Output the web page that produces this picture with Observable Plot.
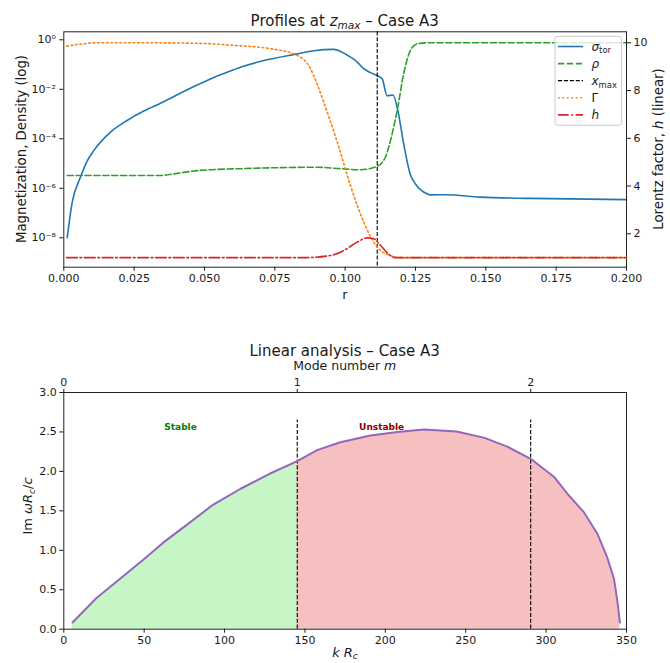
<!DOCTYPE html>
<html>
<head>
<meta charset="utf-8">
<script src="https://cdn.jsdelivr.net/npm/d3@7"></script>
<script src="https://cdn.jsdelivr.net/npm/@observablehq/plot@0.6"></script>
<style>
  html, body { margin: 0; padding: 0; background: white; }
  #wrap { position: relative; width: 670px; height: 663px; font-family: "DejaVu Sans", sans-serif; }
  #wrap svg { position: absolute; left: 0; }
</style>
</head>
<body>
<div id="wrap"></div>
<script>
// ---------- Top panel data: profiles at z_max ----------
const rDomain = [0, 0.2];
const rTicks = [0, 0.025, 0.05, 0.075, 0.1, 0.125, 0.15, 0.175, 0.2];
const logDomain = [Math.pow(10, -9.188), Math.pow(10, 0.323)];
const logTicks = [1e-8, 1e-6, 1e-4, 1e-2, 1];
const logTickLabels = ["10⁻⁸", "10⁻⁶", "10⁻⁴", "10⁻²", "10⁰"];
const linDomain = [0.601, 10.46];
const linTicks = [2, 4, 6, 8, 10];
const xMax = 0.1114;

const sigmaR = [0.0012, 0.003, 0.0059, 0.0083, 0.0107, 0.0166, 0.0225, 0.0284, 0.0344, 0.0403, 0.0462, 0.0521, 0.0581, 0.0628, 0.0711, 0.083, 0.0889, 0.096, 0.0984, 0.1019, 0.1043, 0.1066, 0.109, 0.1114, 0.1132, 0.1149, 0.117, 0.1188, 0.1208, 0.1232, 0.125, 0.1291, 0.1303, 0.136, 0.148, 0.166, 0.2];
const sigmaV = [1e-8, 2.75e-7, 2.8e-6, 1.26e-5, 3.4e-5, 1.86e-4, 5.5e-4, 1.32e-3, 2.75e-3, 6.0e-3, 0.0129, 0.0263, 0.049, 0.0776, 0.145, 0.27, 0.363, 0.41, 0.34, 0.20, 0.126, 0.068, 0.047, 0.036, 0.026, 0.0055, 0.0059, 0.00126, 6.3e-5, 3.5e-6, 1.5e-6, 6.0e-7, 5.4e-7, 5.5e-7, 4.4e-7, 3.9e-7, 3.5e-7];

const rhoR = [0.0012, 0.0344, 0.0403, 0.0462, 0.0521, 0.0628, 0.09, 0.0984, 0.1055, 0.1114, 0.1143, 0.1161, 0.1185, 0.1208, 0.1232, 0.1256, 0.1303, 0.2];
const rhoV = [3.3e-6, 3.3e-6, 4.0e-6, 5.0e-6, 5.6e-6, 6.2e-6, 7.1e-6, 6.2e-6, 5.6e-6, 7.8e-6, 1.8e-5, 8.5e-5, 1.4e-3, 0.043, 0.37, 0.69, 0.76, 0.76];

const gammaR = [0.001, 0.005, 0.012, 0.03, 0.05, 0.0593, 0.0735, 0.083, 0.0877, 0.09, 0.0924, 0.0972, 0.1019, 0.1066, 0.1114, 0.1161, 0.12, 0.2];
const gammaV = [9.86, 9.93, 10.0, 10.0, 9.97, 9.9, 9.75, 9.47, 8.91, 8.28, 7.51, 5.84, 4.02, 2.49, 1.44, 1.09, 1.0, 1.0];

const hR = [0.001, 0.085, 0.0948, 0.0995, 0.1043, 0.1078, 0.1102, 0.1126, 0.1161, 0.118, 0.2];
const hV = [1.0, 1.0, 1.09, 1.30, 1.65, 1.83, 1.79, 1.51, 1.09, 1.0, 1.0];

// ---------- Bottom panel data: linear analysis ----------
const kDomain = [0, 350];
const kTicks = [0, 50, 100, 150, 200, 250, 300, 350];
const gDomain = [0, 3];
const gTicks = [0, 0.5, 1, 1.5, 2, 2.5, 3];
const modeK = [0, 145.2, 290.4];
const modeLabels = ["0", "1", "2"];
const modeLineTop = 2.65;
const kSplit = 145.2;

const growthK = [5.4, 20, 35, 50, 62, 75, 93, 110, 128, 145.2, 157.6, 172, 190.8, 207.4, 224, 244.3, 261.8, 276.2, 290.4, 305, 313.3, 323.6, 331.9, 338, 342.2, 344.3, 345.9];
const growthV = [0.085, 0.39, 0.64, 0.89, 1.10, 1.30, 1.58, 1.78, 1.97, 2.13, 2.27, 2.37, 2.455, 2.50, 2.53, 2.505, 2.425, 2.31, 2.16, 1.93, 1.715, 1.48, 1.21, 0.91, 0.64, 0.36, 0.085];

const regionLabels = ["Stable", "Unstable"];
const regionK = [72.6, 197.7];
const regionG = [2.56, 2.56];
const regionColors = ["#008000", "#8b0000"];

// ---------- helpers ----------
const zip = (xs, ys, kx, ky) => xs.map((x, i) => ({[kx]: x, [ky]: ys[i]}));
const FONT = "DejaVu Sans";
const TXT = "#1a1a1a";

function rich(sel, x, y, parts, {size = 13, anchor = "middle", rotate = 0, weight = "normal", fill = TXT} = {}) {
  const t = sel.append("text")
    .attr("transform", `translate(${x},${y}) rotate(${rotate})`)
    .attr("text-anchor", anchor)
    .attr("font-size", size)
    .attr("font-weight", weight)
    .attr("font-family", FONT)
    .attr("fill", fill);
  let shift = 0;
  for (const p of parts) {
    const ts = t.append("tspan").text(p.t);
    if (p.i) ts.attr("font-style", "italic");
    const target = p.sub ? size * 0.22 : p.sup ? -size * 0.38 : 0;
    if (target !== shift) { ts.attr("dy", target - shift); shift = target; }
    if (p.sub || p.sup) ts.attr("font-size", size * 0.7);
  }
  return t;
}

const wrap = d3.select("#wrap");
const baseStyle = {fontFamily: FONT, fontSize: "11px", color: TXT, overflow: "visible"};

// ---------- Top panel ----------
const topM = {marginTop: 31.3, marginBottom: 43.3, marginLeft: 63.3, marginRight: 44};

const topLeft = Plot.plot({
  width: 670, height: 310, ...topM,
  style: {...baseStyle, background: "white"},
  x: {domain: rDomain, label: null},
  y: {type: "log", domain: logDomain, label: null},
  marks: [
    Plot.line(zip(sigmaR, sigmaV, "r", "v"), {x: "r", y: "v", stroke: "#1f77b4", strokeWidth: 1.6, curve: "monotone-x"}),
    Plot.line(zip(rhoR, rhoV, "r", "v"), {x: "r", y: "v", stroke: "#2ca02c", strokeWidth: 1.6, strokeDasharray: "6.2,2.7", curve: "monotone-x"}),
    Plot.frame({stroke: "#222", strokeWidth: 1}),
    Plot.axisX({ticks: rTicks, tickFormat: d3.format(".3f"), tickSize: 4, tickPadding: 3, label: null}),
    Plot.axisY({ticks: logTicks, tickFormat: d => logTickLabels[logTicks.indexOf(d)], tickSize: 4, tickPadding: 4, label: null})
  ]
});

const topRight = Plot.plot({
  width: 670, height: 310, ...topM,
  style: {...baseStyle, background: "transparent"},
  x: {domain: rDomain, axis: null},
  y: {domain: linDomain, axis: null},
  marks: [
    Plot.ruleX([xMax], {stroke: "black", strokeWidth: 1.1, strokeDasharray: "4.1,1.8"}),
    Plot.line(zip(gammaR, gammaV, "r", "v"), {x: "r", y: "v", stroke: "#ff7f0e", strokeWidth: 1.6, strokeDasharray: "1.7,2.75", curve: "monotone-x"}),
    Plot.line(zip(hR, hV, "r", "v"), {x: "r", y: "v", stroke: "#d62728", strokeWidth: 1.6, strokeDasharray: "10.7,2.7,1.7,2.7", curve: "monotone-x"}),
    Plot.axisY({anchor: "right", ticks: linTicks, tickSize: 4, tickPadding: 3, label: null})
  ]
});

topLeft.style.top = "0px";
topRight.style.top = "0px";
wrap.node().appendChild(topLeft);
wrap.node().appendChild(topRight);

const ov = d3.select(topRight);
rich(ov, 344.7, 26, [{t: "Profiles at "}, {t: "z", i: true}, {t: "max", i: true, sub: true}, {t: " – Case A3"}], {size: 15});
rich(ov, 345, 298.5, [{t: "r"}], {size: 13});
rich(ov, 25.5, 149, [{t: "Magnetization, Density (log)"}], {size: 13.3, rotate: -90});
rich(ov, 662.5, 149, [{t: "Lorentz factor, "}, {t: "h", i: true}, {t: " (linear)"}], {size: 13.3, rotate: -90});

// legend
const leg = ov.append("g");
leg.append("rect").attr("x", 555).attr("y", 36.3).attr("width", 66.5).attr("height", 89)
  .attr("rx", 3).attr("fill", "white").attr("fill-opacity", 0.8).attr("stroke", "#cccccc").attr("stroke-width", 1);
const legendItems = [
  {stroke: "#1f77b4", dash: null, parts: [{t: "σ", i: true}, {t: "tor", sub: true}]},
  {stroke: "#2ca02c", dash: "6.2,2.7", parts: [{t: "ρ", i: true}]},
  {stroke: "black", dash: "4.1,1.8", parts: [{t: "x", i: true}, {t: "max", sub: true}]},
  {stroke: "#ff7f0e", dash: "1.7,2.75", parts: [{t: "Γ"}]},
  {stroke: "#d62728", dash: "10.7,2.7,1.7,2.7", parts: [{t: "h", i: true}]}
];
legendItems.forEach((it, i) => {
  const y = 46.5 + i * 17.1;
  const ln = leg.append("line").attr("x1", 558).attr("x2", 583).attr("y1", y).attr("y2", y)
    .attr("stroke", it.stroke).attr("stroke-width", i === 2 ? 1.2 : 1.6);
  if (it.dash) ln.attr("stroke-dasharray", it.dash);
  rich(leg, 591.5, y + 4.3, it.parts, {size: 12, anchor: "start"});
});

// ---------- Bottom panel ----------
const growth = zip(growthK, growthV, "k", "g");
const stablePts = growth.filter(d => d.k <= kSplit);
const unstablePts = growth.filter(d => d.k >= kSplit);

const bottom = Plot.plot({
  width: 670, height: 353,
  marginTop: 82, marginBottom: 34.3, marginLeft: 63.3, marginRight: 44,
  style: {...baseStyle, background: "white"},
  x: {domain: kDomain, label: null},
  y: {domain: gDomain, label: null},
  marks: [
    Plot.areaY(stablePts, {x: "k", y: "g", fill: "#c6f5c6", curve: "linear"}),
    Plot.areaY(unstablePts, {x: "k", y: "g", fill: "#f6c0c1", curve: "linear"}),
    Plot.ruleX(modeK.slice(1), {y1: 0, y2: modeLineTop, stroke: "black", strokeWidth: 1.1, strokeDasharray: "4.1,1.8"}),
    Plot.line(growth, {x: "k", y: "g", stroke: "#9467bd", strokeWidth: 2}),
    Plot.text(regionLabels, {x: (d, i) => regionK[i], y: (d, i) => regionG[i], text: d => d,
      fill: (d, i) => regionColors[i], fontWeight: "bold", fontSize: 9}),
    Plot.frame({stroke: "#222", strokeWidth: 1}),
    Plot.axisX({ticks: kTicks, tickSize: 4, tickPadding: 3, label: null}),
    Plot.axisX({anchor: "top", ticks: modeK, tickFormat: d => modeLabels[modeK.indexOf(d)], tickSize: 4, tickPadding: 3, label: null}),
    Plot.axisY({ticks: gTicks, tickFormat: d3.format(".1f"), tickSize: 4, tickPadding: 3, label: null})
  ]
});
bottom.style.top = "310px";
wrap.node().appendChild(bottom);

const bs = d3.select(bottom);
rich(bs, 344.7, 45.5, [{t: "Linear analysis – Case A3"}], {size: 15});
rich(bs, 344.7, 60, [{t: "Mode number "}, {t: "m", i: true}], {size: 12.5});
rich(bs, 345, 346.5, [{t: "k", i: true}, {t: " "}, {t: "R", i: true}, {t: "c", i: true, sub: true}], {size: 13});
rich(bs, 32, 196, [{t: "Im"}, {t: " "}, {t: "ω", i: true}, {t: "R", i: true}, {t: "c", i: true, sub: true}, {t: "/"}, {t: "c", i: true}], {size: 13, rotate: -90});
</script>
</body>
</html>
